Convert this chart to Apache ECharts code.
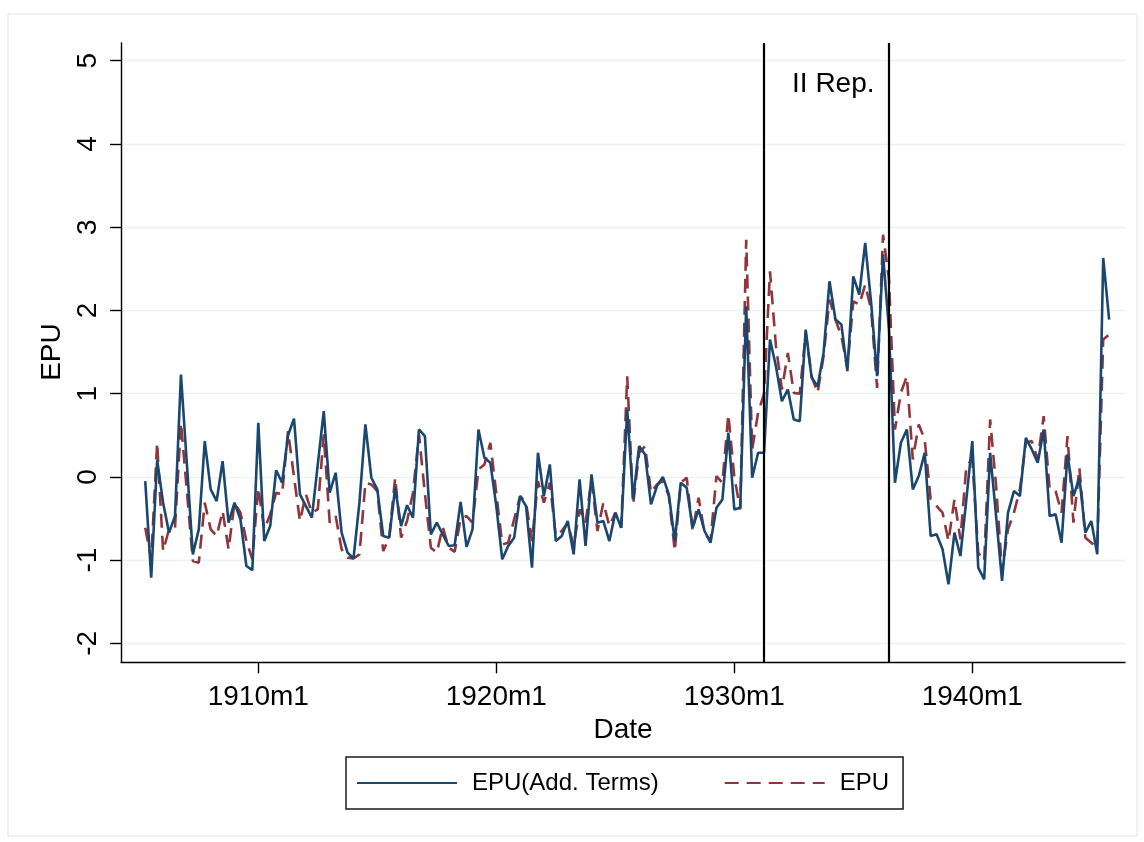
<!DOCTYPE html>
<html><head><meta charset="utf-8">
<script src="https://cdn.jsdelivr.net/npm/echarts@6/dist/echarts.min.js"></script>
<style>html,body{margin:0;padding:0;background:#fff}#c{width:1144px;height:842px}</style>
</head><body><div id="c"></div>
<script>
// Quarterly observations, 1905q2 .. 1945q4
const epuAddTerms = [
  -0.05, -1.21, 0.20, -0.31, -0.67, -0.47, 1.23, 0.15, -0.93, -0.63,
  0.43, -0.15, -0.29, 0.19, -0.55, -0.31, -0.51, -1.07, -1.12, 0.65,
  -0.77, -0.59, 0.08, -0.07, 0.50, 0.70, -0.21, -0.35, -0.49, 0.15,
  0.79, -0.19, 0.05, -0.67, -0.91, -0.98, -0.31, 0.63, -0.01, -0.15,
  -0.71, -0.73, -0.13, -0.59, -0.34, -0.49, 0.57, 0.49, -0.69, -0.55,
  -0.69, -0.83, -0.82, -0.30, -0.84, -0.63, 0.57, 0.23, 0.17, -0.35,
  -0.99, -0.83, -0.73, -0.23, -0.35, -1.09, 0.29, -0.23, 0.15, -0.77,
  -0.71, -0.53, -0.93, -0.03, -0.83, 0.03, -0.55, -0.53, -0.77, -0.43,
  -0.61, 0.81, -0.27, 0.37, 0.27, -0.33, -0.11, 0.00, -0.21, -0.77,
  -0.07, -0.13, -0.61, -0.39, -0.65, -0.79, -0.37, -0.27, 0.53, -0.39,
  -0.37, 2.05, -0.01, 0.29, 0.29, 1.65, 1.33, 0.91, 1.05, 0.69,
  0.67, 1.77, 1.19, 1.09, 1.49, 2.35, 1.89, 1.83, 1.27, 2.41,
  2.19, 2.81, 2.09, 1.21, 2.67, 1.77, -0.07, 0.41, 0.57, -0.15,
  0.01, 0.29, -0.71, -0.69, -0.87, -1.29, -0.67, -0.95, -0.27, 0.43,
  -1.09, -1.23, 0.29, -0.47, -1.25, -0.43, -0.17, -0.23, 0.47, 0.33,
  0.17, 0.57, -0.47, -0.45, -0.79, 0.27, -0.23, -0.01, -0.67, -0.53,
  -0.93, 2.63, 1.89
];
const epu = [
  -0.61, -0.99, 0.41, -0.89, -0.63, -0.61, 0.65, -0.17, -1.01, -1.03,
  -0.31, -0.63, -0.71, -0.41, -0.87, -0.31, -0.43, -0.77, -0.99, -0.13,
  -0.63, -0.45, -0.19, -0.21, 0.55, 0.00, -0.53, -0.21, -0.43, -0.39,
  0.51, -0.55, -0.47, -0.87, -0.97, -0.98, -0.93, -0.07, -0.09, -0.17,
  -0.89, -0.73, -0.01, -0.73, -0.53, -0.19, 0.51, -0.20, -0.85, -0.91,
  -0.60, -0.85, -0.90, -0.50, -0.47, -0.55, 0.09, 0.15, 0.41, -0.20,
  -0.81, -0.79, -0.51, -0.23, -0.31, -0.77, -0.05, -0.31, -0.07, -0.71,
  -0.65, -0.55, -0.83, -0.39, -0.55, -0.03, -0.65, -0.31, -0.59, -0.43,
  -0.61, 1.21, -0.33, 0.29, 0.37, -0.19, -0.09, -0.05, -0.23, -0.89,
  -0.07, -0.01, -0.65, -0.25, -0.67, -0.77, 0.01, -0.07, 0.75, 0.00,
  -0.39, 2.85, 0.33, 0.77, 1.00, 2.47, 1.57, 1.05, 1.49, 1.01,
  1.00, 1.73, 1.21, 1.01, 1.45, 2.13, 1.89, 1.69, 1.31, 2.11,
  2.07, 2.31, 2.01, 1.07, 2.91, 2.37, 0.57, 1.01, 1.21, 0.21,
  0.63, 0.45, -0.27, -0.35, -0.43, -0.77, -0.27, -0.75, 0.13, 0.21,
  -0.91, -1.01, 0.69, -0.11, -1.13, -0.63, -0.43, -0.15, 0.41, 0.43,
  0.21, 0.73, -0.15, -0.17, -0.43, 0.49, -0.55, 0.11, -0.73, -0.79,
  -0.85, 1.65, 1.71
];
const firstQuarter = 1905.25;   // 1905q2 in decimal years
const quarterStep = 0.25;
const xTickValues = [1910, 1920, 1930, 1940];
const xTickLabels = ['1910m1', '1920m1', '1930m1', '1940m1'];
const yTickValues = [-2, -1, 0, 1, 2, 3, 4, 5];
const eventDates = [1931.25, 1936.5];   // 1931m4, 1936m7
const eventLabel = 'II Rep.';
const seriesNames = ['EPU(Add. Terms)', 'EPU'];

const dates = epuAddTerms.map((_, i) => firstQuarter + i * quarterStep);
const blueData = dates.map((d, i) => [d, epuAddTerms[i]]);
const redData = dates.map((d, i) => [d, epu[i]]);

const FONT = 'Arial, "Liberation Sans", sans-serif';
const X_MIN = 1904.231, X_MAX = 1946.416;

const frame = {type: 'rect', silent: true, z: -10,
  shape: {x: 8, y: 14, width: 1129, height: 822},
  style: {fill: null, stroke: '#dfe6e9', lineWidth: 1}};

const chart = echarts.init(document.getElementById('c'), null, {renderer: 'canvas'});
chart.setOption({
  backgroundColor: '#ffffff',
  animation: false,
  textStyle: {fontFamily: FONT},
  grid: [
    {left: 121, right: 19, top: 60.7, bottom: 198.6},
    {left: 121, right: 19, top: 43, bottom: 179.7}
  ],
  xAxis: [
    {gridIndex: 0, type: 'value', min: X_MIN, max: X_MAX, show: false},
    {gridIndex: 1, type: 'value', min: X_MIN, max: X_MAX,
      name: 'Date', nameLocation: 'middle', nameGap: 46,
      nameTextStyle: {fontSize: 28, color: '#000', fontFamily: FONT},
      axisLine: {show: true, onZero: false, lineStyle: {color: '#000', width: 1.4}},
      axisTick: {show: true, length: 11, lineStyle: {color: '#000', width: 1.4}, customValues: xTickValues},
      axisLabel: {show: true, customValues: xTickValues, margin: 21, fontSize: 28, color: '#000', fontFamily: FONT,
        formatter: v => { const k = xTickValues.indexOf(Math.round(v)); return k >= 0 ? xTickLabels[k] : ''; }},
      splitLine: {show: false}
    }
  ],
  yAxis: [
    {gridIndex: 0, type: 'value', min: -2, max: 5, interval: 1,
      name: 'EPU', nameLocation: 'middle', nameGap: 52, nameRotate: 90,
      nameTextStyle: {fontSize: 28, color: '#000', fontFamily: FONT},
      axisLine: {show: false},
      axisTick: {show: true, length: 11, lineStyle: {color: '#000', width: 1.4}},
      axisLabel: {show: true, rotate: 90, margin: 19, fontSize: 28, color: '#000', fontFamily: FONT,
        formatter: v => String(v)},
      splitLine: {show: true, lineStyle: {color: '#eaf2f3', width: 1.4}}
    },
    {gridIndex: 1, type: 'value', min: 0, max: 1,
      axisLine: {show: true, onZero: false, lineStyle: {color: '#000', width: 1.4}},
      axisTick: {show: false}, axisLabel: {show: false}, splitLine: {show: false}
    }
  ],
  legend: {
    left: 346, top: 757, orient: 'horizontal',
    data: seriesNames,
    itemWidth: 100, itemHeight: 14, itemGap: 65,
    padding: [14, 14, 14, 10],
    borderColor: '#1a1a1a', borderWidth: 1.5,
    itemStyle: {opacity: 0},
    textStyle: {fontSize: 24, color: '#000', fontFamily: FONT, padding: [0, 0, 0, 10]}
  },
  series: [
    {name: seriesNames[0], type: 'line', xAxisIndex: 0, yAxisIndex: 0, data: blueData,
      symbol: 'none', showSymbol: false, z: 3,
      lineStyle: {color: '#1a476f', width: 2.6}, itemStyle: {color: '#1a476f'}},
    {name: seriesNames[1], type: 'line', xAxisIndex: 0, yAxisIndex: 0, data: redData,
      symbol: 'none', showSymbol: false, z: 2,
      lineStyle: {color: '#90353b', width: 2.6, type: [14, 8]}, itemStyle: {color: '#90353b'}},
    {name: 'events', type: 'line', xAxisIndex: 1, yAxisIndex: 1, data: [], silent: true, z: 4,
      markLine: {silent: true, symbol: ['none', 'none'], animation: false,
        label: {show: false},
        lineStyle: {color: '#000', width: 2.2, type: 'solid'},
        emphasis: {disabled: true},
        data: eventDates.map(d => ({xAxis: d}))}}
  ],
  graphic: [frame]
});

const p = chart.convertToPixel({gridIndex: 0}, [eventDates[0], 4.72]);
chart.setOption({
  graphic: [
    frame,
    {type: 'text', silent: true, z: 10, x: p[0] + 28, y: p[1],
      style: {text: eventLabel, font: '28px ' + FONT, fill: '#000', textVerticalAlign: 'middle', textAlign: 'left'}}
  ]
});
</script>
</body></html>
